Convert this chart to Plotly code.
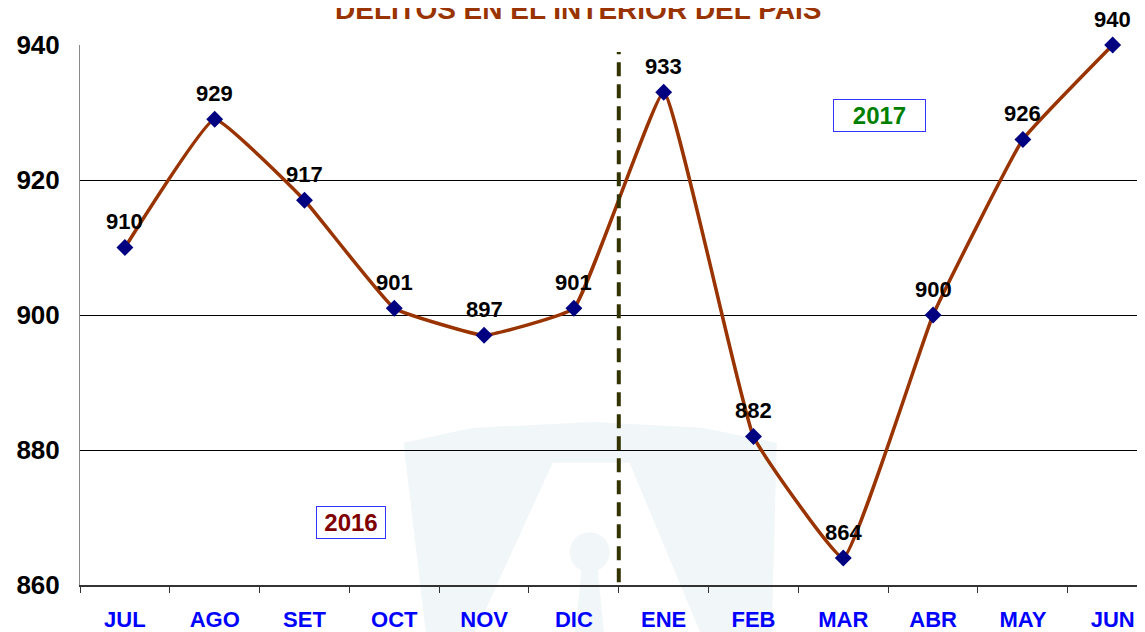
import plotly.graph_objects as go

months = ["JUL", "AGO", "SET", "OCT", "NOV", "DIC", "ENE", "FEB", "MAR", "ABR", "MAY", "JUN"]
delitos = [910, 929, 917, 901, 897, 901, 933, 882, 864, 900, 926, 940]
y_ticks = [860, 880, 900, 920, 940]

W, H = 1145, 632
OFF = 8  # page body margin
# plot area in window pixels: x 75..1145, y 45..588
L, T = 75 - OFF, 45 - OFF
R = W - (1145 - OFF)
B = H - (588 - OFF)
PW, PH = W - L - R, H - T - B


def px(x, y):
    """window pixel -> paper coords"""
    return (x - OFF - L) / PW, (H - B - (y - OFF)) / PH


def path(points):
    s = ""
    for i, (x, y) in enumerate(points):
        xp, yp = px(x, y)
        s += ("M" if i == 0 else "L") + f"{xp:.4f},{yp:.4f} "
    return s + "Z"


fig = go.Figure()

fig.add_trace(
    go.Scatter(
        x=months,
        y=delitos,
        mode="lines+markers",
        line=dict(color="#993300", width=3.5, shape="spline", smoothing=0.3),
        marker=dict(symbol="diamond", size=13, color="#000080"),
        cliponaxis=False,
        showlegend=False,
    )
)

# faint watermark in the background
wm = "#f1f6f8"
shapes = [
    dict(type="path", xref="paper", yref="paper", layer="below", line_width=0, fillcolor=wm,
         path=path([(400, 445), (470, 430), (590, 424), (700, 430), (775, 445),
                    (770, 640), (700, 640), (627, 465), (550, 465), (470, 640), (423, 640)])),
    dict(type="circle", xref="paper", yref="paper", layer="below", line_width=0, fillcolor=wm,
         x0=px(567, 0)[0], x1=px(607, 0)[0], y0=px(0, 575)[1], y1=px(0, 535)[1]),
    dict(type="path", xref="paper", yref="paper", layer="below", line_width=0, fillcolor=wm,
         path=path([(580, 560), (594, 560), (602, 640), (572, 640)])),
    # dashed separator between years
    dict(type="line", xref="x", yref="paper", x0=5.5, x1=5.5, y0=0.005, y1=0.987,
         line=dict(color="#333300", width=4, dash="14px,8px")),
]

annotations = [
    dict(text="DELITOS EN EL INTERIOR DEL PAIS", xref="paper", yref="paper",
         x=px(575, 0)[0], xanchor="center", y=1, yanchor="bottom", yshift=18, showarrow=False,
         font=dict(family="Arial", size=28, color="#993300", weight="bold")),
    dict(text="2016", xref="paper", yref="paper", x=px(347, 0)[0], y=px(0, 525)[1],
         xanchor="center", yanchor="middle", width=60, height=23,
         showarrow=False, bordercolor="#3333ff", borderwidth=1, borderpad=4, bgcolor="white",
         font=dict(family="Arial", size=24, color="#800000", weight="bold")),
    dict(text="2017", xref="paper", yref="paper", x=px(878, 0)[0], y=px(0, 116)[1],
         xanchor="center", yanchor="middle", width=83, height=23,
         showarrow=False, bordercolor="#3333ff", borderwidth=1, borderpad=4, bgcolor="white",
         font=dict(family="Arial", size=24, color="#008000", weight="bold")),
]

# value labels above each point
for m, v in zip(months, delitos):
    annotations.append(
        dict(text=str(v), x=m, y=v, xref="x", yref="y", showarrow=False,
             yanchor="middle", yshift=26,
             font=dict(family="Arial", size=22, color="black", weight="bold"))
    )

fig.update_layout(
    width=W,
    height=H,
    margin=dict(l=L, r=R, t=T, b=B),
    plot_bgcolor="rgba(0,0,0,0)",
    paper_bgcolor="white",
    shapes=shapes,
    annotations=annotations,
    xaxis=dict(
        type="category",
        range=[-0.5, 11.36],
        tickson="boundaries",
        tickfont=dict(family="Arial", size=22, color="#0000ff", weight="bold"),
        showline=True,
        linecolor="#333333",
        linewidth=1.5,
        ticks="outside",
        ticklen=6,
        tickcolor="#333333",
        ticklabelstandoff=14,
        showgrid=False,
        zeroline=False,
    ),
    yaxis=dict(
        range=[860, 940],
        tickvals=y_ticks,
        tickfont=dict(family="Arial", size=26, color="black", weight="bold"),
        showline=True,
        linecolor="#888888",
        linewidth=1,
        showgrid=True,
        gridcolor="black",
        gridwidth=1,
        zeroline=False,
        ticks="",
        ticklabelstandoff=14,
    ),
)

fig.write_html("out.html")
